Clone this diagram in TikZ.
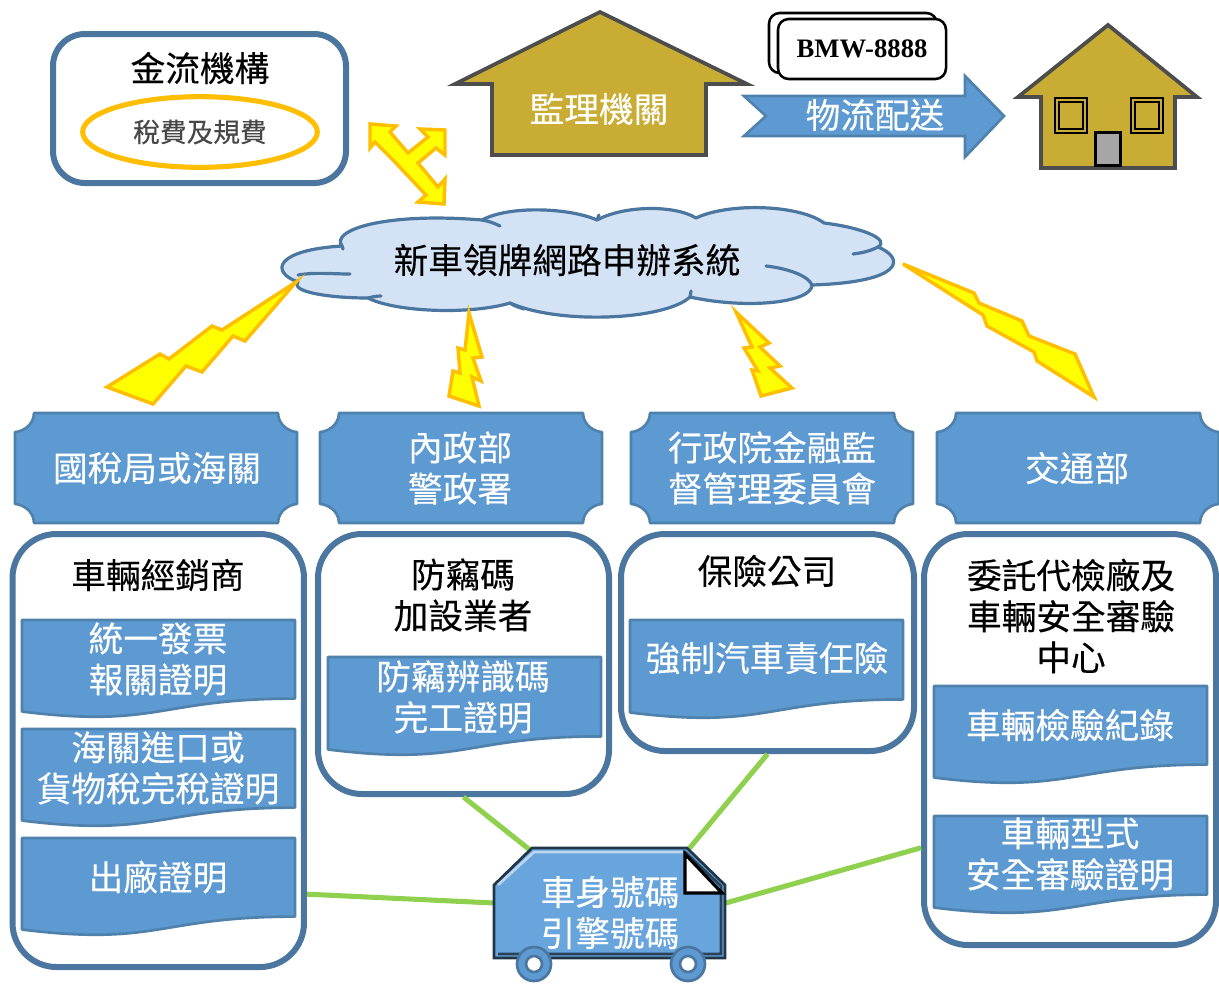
\documentclass[tikz,border=0pt]{standalone}
\usepackage{fontspec}
\setmainfont[FakeBold=0.25]{Noto Sans CJK TC}
\newfontfamily\latinserif{Liberation Serif}
\usetikzlibrary{shapes.geometric}
\definecolor{boxline}{HTML}{4A76A0}
\definecolor{cardfill}{HTML}{5E9AD2}
\definecolor{cardline}{HTML}{4F81AD}
\definecolor{gold}{HTML}{C9AC33}
\definecolor{goldline}{HTML}{4D4D4D}
\definecolor{boltfill}{HTML}{FFFF00}
\definecolor{boltline}{HTML}{FFBE00}
\definecolor{cloudfill}{HTML}{D3E3F5}
\definecolor{linkgreen}{HTML}{8FD14F}
\definecolor{vanfill}{HTML}{68A5DC}
\tikzset{
  roundbox/.style={draw=boxline,line width=4.5pt,fill=white,rounded corners=33pt,inner sep=0pt},
  bolt/.style={draw=boltline,fill=boltfill,line width=2.6pt,line join=miter},
  card/.style={draw=cardline,fill=cardfill,line width=2pt,line join=round},
  house/.style={draw=goldline,fill=gold,line width=2.8pt,line join=miter},
  link/.style={draw=linkgreen,line width=3.8pt},
  txt/.style={inner sep=0pt,font=\fontsize{26}{30.8}\selectfont,align=center},
  wtxt/.style={txt,text=white},
  cloudline/.style={draw=boxline,line width=2.4pt,line cap=round}
}
% plaque: name-free shape x0 y0 x1 y1
\newcommand{\plaqueshape}[4]{%
  \pgfmathsetmacro{\xa}{#1+19}\pgfmathsetmacro{\xb}{#3-19}%
  \pgfmathsetmacro{\ya}{#2+19}\pgfmathsetmacro{\yb}{#4-19}%
  \path[card] (\xa,#2) -- (\xb,#2) .. controls (\xb,\ya-6) and (#3-6,\ya) .. (#3,\ya)
    -- (#3,\yb) .. controls (#3-6,\yb) and (\xb,\yb+6) .. (\xb,#4)
    -- (\xa,#4) .. controls (\xa,\yb+6) and (#1+6,\yb) .. (#1,\yb)
    -- (#1,\ya) .. controls (#1+6,\ya) and (\xa,\ya-6) .. (\xa,#2) -- cycle;}
% document: x0 y0 x1 y1
\newcommand{\docshape}[4]{%
  \pgfmathsetmacro{\xm}{(#1+#3)/2}%
  \pgfmathsetmacro{\yr}{#2+0.802*(#4-#2)}%
  \pgfmathsetmacro{\yc}{#2+1.107*(#4-#2)}%
  \pgfmathsetmacro{\yl}{#2+0.934*(#4-#2)}%
  \path[card] (#1,#2) -- (#3,#2) -- (#3,\yr) .. controls (\xm,\yr) and (\xm,\yc) .. (#1,\yl) -- cycle;}
\begin{document}
\begin{tikzpicture}[x=0.75pt,y=-0.75pt]
\useasboundingbox (0,0) rectangle (1219,983);
% payment institution
\node[roundbox,rounded corners=24pt,minimum width=219.75pt,minimum height=111.75pt] (bank) at (199.5,108.5) {};
\node[txt] (banktitle) at (200,68) {金流機構};
\node[draw=boltline,line width=3.8pt,ellipse,fill=white,inner sep=0pt,minimum width=176pt,minimum height=53pt] (fee) at (200,132) {};
\node[txt,font=\fontsize{20}{24}\selectfont,text=black!72] (feetext) at (200,132) {稅費及規費};
% three-way arrow
\path[bolt] (370,124)--(396,126)--(390,132)--(408,153)--(428,137)--(420,129)--(445,130)--(445,155)--(436,148)--(418,163)--(438,187)--(445,179)--(444,204)--(418,202)--(426,195)--(393,160)--(375,142)--(370,148)--cycle;
% authority house
\path[house] (600,12)--(747,84)--(706,84)--(706,155)--(492,155)--(492,84)--(455,84)--cycle;
\node[wtxt] (authority) at (599,109) {監理機關};
% plate
\node[draw=black,line width=1.9pt,fill=white,rounded corners=8pt,inner sep=0pt,minimum width=126pt,minimum height=45pt] (plateback) at (853,43) {};
\node[draw=black,line width=1.9pt,fill=white,rounded corners=8pt,inner sep=0pt,minimum width=126pt,minimum height=45pt,font=\latinserif\bfseries\fontsize{20}{24}\selectfont] (plate) at (862,49) {BMW-8888};
% logistics arrow
\path[card,line join=miter] (744,96)--(965,96)--(965,76)--(1004,116)--(965,157)--(965,136)--(744,136)--(766,116)--cycle;
\node[wtxt] (logistics) at (875,115) {物流配送};
% small house
\path[house] (1108,25)--(1197,97)--(1175,97)--(1175,168)--(1041,168)--(1041,97)--(1018,97)--cycle;
\node[draw=black,line width=1.4pt,inner sep=0pt,minimum width=24pt,minimum height=26pt] (winA) at (1071,115.5) {};
\node[draw=black,line width=1.4pt,inner sep=0pt,minimum width=18pt,minimum height=20pt] (winAi) at (1071,115.5) {};
\node[draw=black,line width=1.4pt,inner sep=0pt,minimum width=24pt,minimum height=26pt] (winB) at (1147,115.5) {};
\node[draw=black,line width=1.4pt,inner sep=0pt,minimum width=18pt,minimum height=20pt] (winBi) at (1147,115.5) {};
\node[draw=black,fill=black!35,line width=2pt,inner sep=0pt,minimum width=19pt,minimum height=25pt] (door) at (1108,149) {};
% cloud
\path[fill=cloudfill,draw=boxline,line width=2.4pt,line join=round]
  (298,282) .. controls (270,272) and (275,250) .. (342,246)
  .. controls (330,230) and (385,212) .. (482,220)
  .. controls (510,205) and (570,208) .. (597,220)
  .. controls (625,205) and (675,205) .. (696,218)
  .. controls (730,202) and (800,205) .. (824,223)
  .. controls (865,228) and (890,240) .. (878,247)
  .. controls (905,258) and (905,282) .. (812,285)
  .. controls (812,302) and (750,310) .. (690,297)
  .. controls (665,320) and (560,325) .. (510,303)
  .. controls (470,315) and (395,312) .. (368,298)
  .. controls (330,298) and (290,292) .. (298,282) -- cycle;
\path[cloudline] (482,220) .. controls (488,221) and (494,223) .. (500,226);
\path[cloudline] (342,246) -- (343,249);
\path[cloudline] (350,274) .. controls (332,274) and (315,272) .. (298,275);
\path[cloudline] (368,298) .. controls (372,297) and (376,296) .. (381,296);
\path[cloudline] (510,303) .. controls (514,306) and (518,307) .. (524,309);
\path[cloudline] (597,220) -- (599,215);
\path[cloudline] (853,254) .. controls (862,253) and (870,251) .. (878,247);
\path[cloudline] (766,266) .. controls (785,268) and (808,275) .. (812,285);
\path[cloudline] (690,297) -- (691,291);
\node[txt,font=\fontsize{26}{31}\selectfont] (system) at (567,260) {新車領牌網路申辦系統};
% bolts
\path[bolt] (296,282)--(245,341)--(233,336)--(202,372)--(186,366)--(153,404)--(107,387)--(160,354)--(169,359)--(212,326)--(222,330)--cycle;
\path[bolt] (469,313)--(482,357)--(473,358)--(481,381)--(472,377)--(479,406)--(449,396)--(453,371)--(460,373)--(458,348)--(465,350)--cycle;
\path[bolt] (736,312)--(769,343)--(760,347)--(780,366)--(770,368)--(792,388)--(761,396)--(752,370)--(758,371)--(744,348)--(752,347)--cycle;
\path[bolt] (903,264)--(974,293)--(979,303)--(1022,321)--(1029,336)--(1075,354)--(1094,397)--(1037,361)--(1034,352)--(987,326)--(983,315)--cycle;
% plaques
\plaqueshape{15}{413}{297}{523}
\node[wtxt] (taxbureau) at (157,468) {國稅局或海關};
\plaqueshape{320}{413}{602}{523}
\node[wtxt] (police) at (460,468) {內政部\\警政署};
\plaqueshape{631}{413}{913}{523}
\node[wtxt] (fsc) at (772,468) {行政院金融監\\督管理委員會};
\plaqueshape{937}{413}{1219}{523}
\node[wtxt] (motc) at (1077,468) {交通部};
% big boxes
\node[roundbox,minimum width=218.6pt,minimum height=324.75pt] (dealer) at (158.25,750.5) {};
\node[roundbox,minimum width=218.25pt,minimum height=195pt] (antitheft) at (463.5,664) {};
\node[roundbox,minimum width=219.75pt,minimum height=162.75pt] (insurer) at (767.5,642.5) {};
\node[roundbox,minimum width=219pt,minimum height=308.25pt] (inspect) at (1070,739.5) {};
\node[txt] (dealertitle) at (158,575) {車輛經銷商};
\node[txt] (antititle) at (463,595) {防竊碼\\加設業者};
\node[txt] (insurertitle) at (767,571) {保險公司};
\node[txt] (inspecttitle) at (1071,616) {委託代檢廠及\\車輛安全審驗\\中心};
% documents
\docshape{22}{620}{295}{718}
\node[wtxt] (d1) at (158,659) {統一發票\\報關證明};
\docshape{22}{729}{295}{827}
\node[wtxt] (d2) at (158,768) {海關進口或\\貨物稅完稅證明};
\docshape{22}{838}{295}{936}
\node[wtxt] (d3) at (158,877) {出廠證明};
\docshape{328}{657}{601}{756}
\node[wtxt] (d4) at (463,697) {防竊辨識碼\\完工證明};
\docshape{630}{620}{903}{719}
\node[wtxt] (d5) at (767,658) {強制汽車責任險};
\docshape{934}{686}{1207}{784}
\node[wtxt] (d6) at (1070,725) {車輛檢驗紀錄};
\docshape{934}{816}{1207}{914}
\node[wtxt] (d7) at (1070,854) {車輛型式\\安全審驗證明};
% van anchor and links
\node[inner sep=0pt,minimum width=173pt,minimum height=82pt] (van) at (610,903) {};
\coordinate (vanTL) at (530,850);
\coordinate (vanTR) at (688,850);
\draw[link] (dealer.-44) -- (van.west);
\draw[link] (antitheft.south) -- (vanTL);
\draw[link] (insurer.south) -- (vanTR);
\draw[link] (inspect.216.3) -- (van.east);
% van
\path[draw=black!55!boxline,fill=vanfill,line width=2pt,line join=miter] (494,885)--(532,848)--(687,848)--(725,885)--(725,958)--(494,958)--cycle;
\path[draw=white!55!vanfill,line width=2pt] (498,885)--(534,852)--(684,852);
\path[draw=black!60!vanfill,line width=2pt] (684,851)--(721,886)--(721,954)--(498,954);
\path[draw=black,fill=white,line width=2.4pt,line join=miter] (685,854)--(722,893)--(685,893)--cycle;
\node[wtxt] (vantext) at (610,912.5) {車身號碼\\引擎號碼};
\foreach \wn/\wx in {wheelA/534,wheelB/688}{
  \node[circle,draw=boxline,fill=cardfill,line width=2pt,inner sep=0pt,minimum size=25.5pt] (\wn) at (\wx,964) {};
  \node[circle,draw=boxline,fill=white,line width=2pt,inner sep=0pt,minimum size=12pt] (\wn i) at (\wx,964) {};
}
\end{tikzpicture}
\end{document}
